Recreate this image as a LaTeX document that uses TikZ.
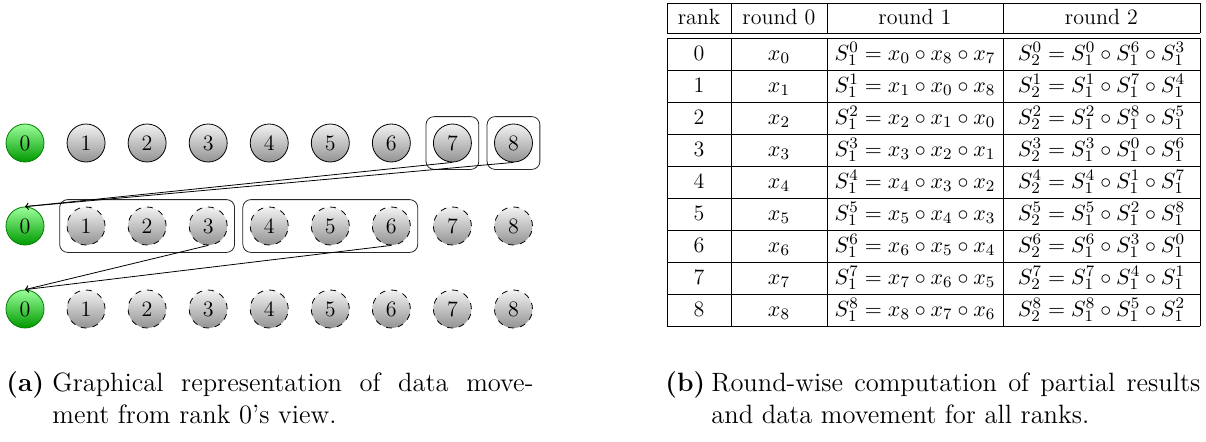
\documentclass[tikz,border=0pt]{standalone}
\usetikzlibrary{fit}
\begin{document}
\begin{tikzpicture}[x=0.5pt,y=-0.5pt,
  every node/.style={font=\fontsize{11}{13}\selectfont},
  proc/.style={circle, minimum size=19pt, inner sep=0pt, line width=0.4pt},
  rootproc/.style={proc, top color=green!40, bottom color=green!60!black, draw=green!50!black},
  row1/.style={proc, top color=gray!10, bottom color=gray!85, draw=black},
  row2/.style={row1, dashed},
  row3/.style={row1, dashed},
  groupbox/.style={draw=black!85, rounded corners=4pt, inner sep=3.5pt, line width=0.4pt},
  move/.style={->, line width=0.4pt},
  cell/.style={anchor=base, inner sep=0pt},
  rule/.style={line width=0.4pt},
  caplabel/.style={anchor=base west, inner sep=0pt, font=\fontsize{13.25}{16}\selectfont\bfseries},
  captext/.style={anchor=base west, inner sep=0pt, font=\fontsize{13.25}{16}\selectfont}]
\useasboundingbox (0,0) rectangle (1206,441);

% ---- ranks in three rounds ----
\foreach \r/\y in {1/143,2/226,3/309} {
  \node[rootproc] (r\r-0) at (25,\y) {0};
  \foreach \i in {1,...,8}
    \node[row\r] (r\r-\i) at (25+61.06*\i,\y) {\i};
}

% ---- groups of received data ----
\node[groupbox, fit=(r1-7)] (g7) {};
\node[groupbox, fit=(r1-8)] (g8) {};
\node[groupbox, fit=(r2-1)(r2-3)] (g13) {};
\node[groupbox, fit=(r2-4)(r2-6)] (g46) {};

% ---- data movement towards rank 0 ----
\draw[move] (r1-7.south) -- (r2-0.north);
\draw[move] (r1-8.south) -- (r2-0.north);
\draw[move] (r2-3.south) -- (r3-0.north);
\draw[move] (r2-6.south) -- (r3-0.north);

% ---- table of partial results ----
\draw[rule] (667,3) -- (1200,3);
\draw[rule] (667,33) -- (1200,33);
\foreach \k in {0,...,9}
  \draw[rule] (667,38+32*\k) -- (1200,38+32*\k);
\foreach \x in {667,731,827,1003,1200} {
  \draw[rule] (\x,3) -- (\x,33);
  \draw[rule] (\x,38) -- (\x,326);
}
\node[cell] (h0) at (699,24) {rank};
\node[cell] (h1) at (779,24) {round 0};
\node[cell] (h2) at (915,24) {round 1};
\node[cell] (h3) at (1101.5,24) {round 2};
\foreach \k in {0,...,8} {
  \pgfmathtruncatemacro{\a}{mod(\k+8,9)}
  \pgfmathtruncatemacro{\b}{mod(\k+7,9)}
  \pgfmathtruncatemacro{\c}{mod(\k+6,9)}
  \pgfmathtruncatemacro{\d}{mod(\k+3,9)}
  \node[cell] (rk\k) at (699,60+32*\k) {\k};
  \node[cell] (x\k) at (779,60+32*\k) {$x_{\k}$};
  \node[cell] (s1\k) at (915,60+32*\k) {$S_1^{\k} = x_{\k} \circ x_{\a} \circ x_{\b}$};
  \node[cell] (s2\k) at (1101.5,60+32*\k) {$S_2^{\k} = S_1^{\k} \circ S_1^{\c} \circ S_1^{\d}$};
}

% ---- captions ----
\node[caplabel] (capa) at (6,391) {(a)};
\node[captext] (capa1) at (52,391) {\makebox[240.5pt][s]{Graphical representation of data move-}};
\node[captext] (capa2) at (52,423) {ment from rank 0's view.};
\node[caplabel] (capb) at (665,391) {(b)};
\node[captext] (capb1) at (711,391) {\makebox[244.5pt][s]{Round-wise computation of partial results}};
\node[captext] (capb2) at (711,423) {and data movement for all ranks.};
\end{tikzpicture}
\end{document}
